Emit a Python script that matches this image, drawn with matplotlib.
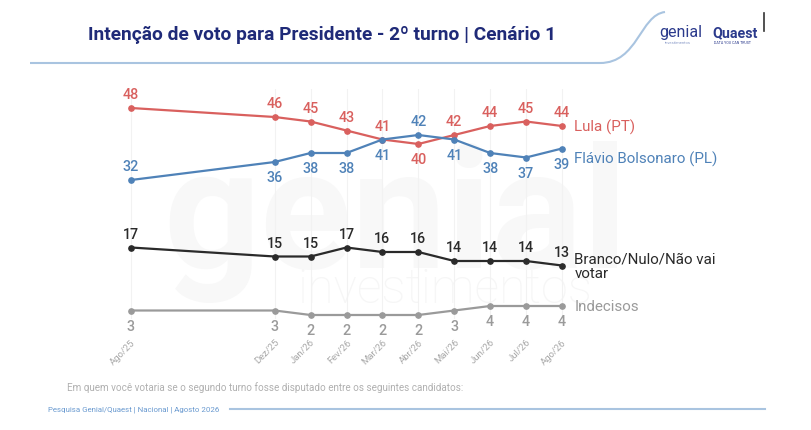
import matplotlib
matplotlib.use("Agg")
import matplotlib.pyplot as plt
from matplotlib.path import Path
from matplotlib.patches import PathPatch
import numpy as np

months = ["Ago/25", "Dez/25", "Jan/26", "Fev/26", "Mar/26", "Abr/26", "Mai/26", "Jun/26", "Jul/26", "Ago/26"]
month_index = [0, 4, 5, 6, 7, 8, 9, 10, 11, 12]
lula = [48, 46, 45, 43, 41, 40, 42, 44, 45, 44]
flavio = [32, 36, 38, 38, 41, 42, 41, 38, 37, 39]
branco = [17, 15, 15, 17, 16, 16, 14, 14, 14, 13]
indecisos = [3, 3, 2, 2, 2, 2, 3, 4, 4, 4]

lula_pos = ["a", "a", "a", "a", "a", "b", "a", "a", "a", "a"]
flavio_pos = ["a", "b", "b", "b", "b", "a", "b", "b", "b", "b"]
branco_pos = ["a"] * 10
indecisos_pos = ["b"] * 10

series_names = ["Lula (PT)", "Flávio Bolsonaro (PL)", "Branco/Nulo/Não vai\nvotar", "Indecisos"]

plt.rcParams['font.family'] = ['Roboto', 'DejaVu Sans']

W, H = 811, 431
fig = plt.figure(figsize=(W / 100, H / 100), dpi=100)
fig.patch.set_facecolor("white")

def fx(px):
    return px / W

def fy(py):
    return 1 - py / H

# background axes for watermark and decorations
bg = fig.add_axes([0, 0, 1, 1], zorder=-10)
bg.set_xlim(0, W)
bg.set_ylim(H, 0)
bg.axis("off")
bg.text(395, 222, "genial", fontsize=122, fontweight="bold", color="#f8f8f8",
        va="center", ha="center")
bg.text(445, 290, "investimentos", fontsize=35, fontweight="light", color="#f6f6f6",
        va="center", ha="center")

# header
bg.text(88, 35, "Intenção de voto para Presidente - 2º turno | Cenário 1",
        fontsize=13.8, fontweight="bold", color="#1f2a78", va="center", ha="left")
verts = [(30, 64), (600, 64), (638, 64), (640, 16), (665, 13)]
codes = [Path.MOVETO, Path.LINETO, Path.CURVE4, Path.CURVE4, Path.CURVE4]
bg.add_patch(PathPatch(Path(verts, codes), facecolor="none", edgecolor="#a9c4e0", lw=1.5))
bg.text(659, 33, "genial", fontsize=11.5, color="#2b3a8c", va="center", ha="left")
bg.text(665, 43, "investimentos", fontsize=3, color="#8a9bc8", va="center", ha="left")
bg.text(712, 33, "Quaest", fontsize=10.3, fontweight="bold", color="#2b3a8c", va="center", ha="left")
bg.text(714, 43, "DATA YOU CAN TRUST", fontsize=2.6, color="#2b3a8c", va="center", ha="left")
bg.plot([764, 764], [14, 32], color="#333333", lw=1.2)

# footer
bg.text(67, 388, "Em quem você votaria se o segundo turno fosse disputado entre os seguintes candidatos:",
        fontsize=7.1, color="#b0b0b0", va="center", ha="left")
bg.text(48, 410, "Pesquisa Genial/Quaest | Nacional | Agosto 2026",
        fontsize=5.7, color="#6a9ad0", va="center", ha="left")
bg.plot([230, 765], [410, 410], color="#a9c4e0", lw=1.5)

# plot axes
ax_l, ax_r, ax_t, ax_b = 100, 600, 90, 320
ax = fig.add_axes([fx(ax_l), fy(ax_b), (ax_r - ax_l) / W, (ax_b - ax_t) / H])
ax.set_facecolor("none")
pxm = (562 - 131) / 12
ax.set_xlim(0 - (131 - ax_l) / pxm, 12 + (ax_r - 562) / pxm)
pxu = 4.5
ax.set_ylim(48 - (ax_b - 109) / pxu, 48 + (109 - ax_t) / pxu)
for s in ax.spines.values():
    s.set_visible(False)
ax.set_yticks([])
ax.set_xticks(month_index)
ax.set_xticklabels(months, rotation=45, ha="right", rotation_mode="anchor",
                   fontsize=6.8, color="#a8a8a8")
ax.tick_params(axis="x", length=0, pad=13)
for m in month_index:
    ax.axvline(m, color="#f2f2f2", lw=0.8, zorder=0.5)

series = [
    (lula, lula_pos, "#d9605e", series_names[0]),
    (flavio, flavio_pos, "#4f82b8", series_names[1]),
    (branco, branco_pos, "#2a2a2a", series_names[2]),
    (indecisos, indecisos_pos, "#9a9a9a", series_names[3]),
]
for vals, pos, col, name in series:
    ax.plot(month_index, vals, color=col, lw=1.6, marker="o", markersize=3.8, zorder=3,
            clip_on=False)
    for m, v, p in zip(month_index, vals, pos):
        off = 10 if p == "a" else -11
        ax.annotate(str(v), (m, v), xytext=(0, off), textcoords="offset points",
                    ha="center", va="center", fontsize=10.3, fontweight="medium", color=col)

ax.annotate(series_names[0], (12, lula[-1]), xytext=(9, 0), textcoords="offset points",
            ha="left", va="center", fontsize=10.9, color="#d9605e")
ax.annotate(series_names[1], (12, flavio[-1]), xytext=(9, -7), textcoords="offset points",
            ha="left", va="center", fontsize=10.9, color="#4f82b8")
ax.annotate(series_names[2], (12, branco[-1]), xytext=(9, 0), textcoords="offset points",
            ha="left", va="center", fontsize=10.9, color="#2a2a2a", linespacing=1.0)
ax.annotate(series_names[3], (12, indecisos[-1]), xytext=(9, 0), textcoords="offset points",
            ha="left", va="center", fontsize=10.9, color="#9a9a9a")

fig.savefig("out.png", dpi=100, facecolor="white")
